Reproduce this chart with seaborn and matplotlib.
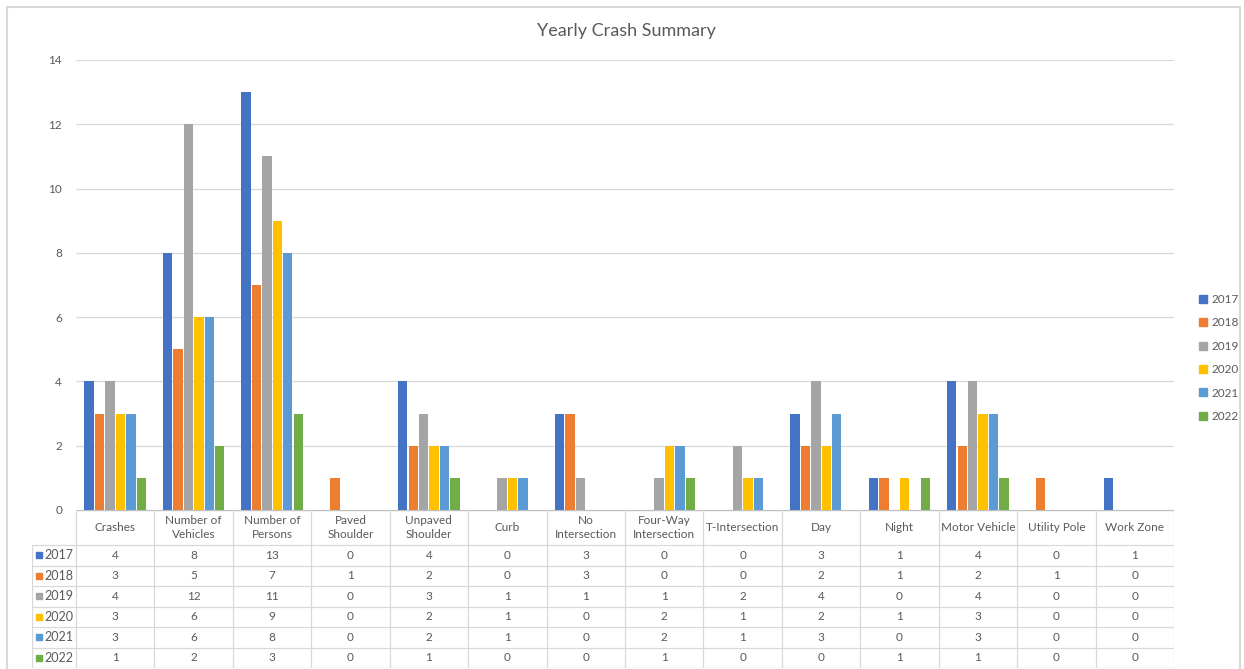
import numpy as np
import pandas as pd
import seaborn as sns
from matplotlib import pyplot as plt
from matplotlib.patches import Rectangle
from matplotlib.lines import Line2D

# chart data
categories = ["Crashes", "Number of Vehicles", "Number of Persons", "Paved Shoulder",
              "Unpaved Shoulder", "Curb", "No Intersection", "Four-Way Intersection",
              "T-Intersection", "Day", "Night", "Motor Vehicle", "Utility Pole", "Work Zone"]
header_labels = ["Crashes", "Number of\nVehicles", "Number of\nPersons", "Paved\nShoulder",
                 "Unpaved\nShoulder", "Curb", "No\nIntersection", "Four-Way\nIntersection",
                 "T-Intersection", "Day", "Night", "Motor Vehicle", "Utility Pole", "Work Zone"]
years = ["2017", "2018", "2019", "2020", "2021", "2022"]
y2017 = [4, 8, 13, 0, 4, 0, 3, 0, 0, 3, 1, 4, 0, 1]
y2018 = [3, 5, 7, 1, 2, 0, 3, 0, 0, 2, 1, 2, 1, 0]
y2019 = [4, 12, 11, 0, 3, 1, 1, 1, 2, 4, 0, 4, 0, 0]
y2020 = [3, 6, 9, 0, 2, 1, 0, 2, 1, 2, 1, 3, 0, 0]
y2021 = [3, 6, 8, 0, 2, 1, 0, 2, 1, 3, 0, 3, 0, 0]
y2022 = [1, 2, 3, 0, 1, 0, 0, 1, 0, 0, 1, 1, 0, 0]
colors = ["#4472C4", "#ED7D31", "#A5A5A5", "#FFC000", "#5B9BD5", "#70AD47"]

sns.set_theme(style="white")
plt.rcParams["font.family"] = ["Lato", "DejaVu Sans"]
TXT = "#595959"
GRID = "#D9D9D9"

df = pd.DataFrame({"Category": categories, "2017": y2017, "2018": y2018, "2019": y2019,
                   "2020": y2020, "2021": y2021, "2022": y2022})
long = df.melt(id_vars="Category", var_name="Year", value_name="Count")

W, H = 1244, 669
fig = plt.figure(figsize=(W / 100, H / 100), dpi=100)
ax = fig.add_axes([76 / W, 1 - 510 / H, (1174 - 76) / W, 450 / H])

sns.barplot(data=long, x="Category", y="Count", hue="Year", order=categories,
            hue_order=years, palette=colors, saturation=1, width=0.8, gap=0.1,
            linewidth=0, legend=False, ax=ax)

ax.set_xlim(-0.5, len(categories) - 0.5)
ax.set_ylim(0, 14)
ax.set_yticks(range(0, 15, 2))
ax.set_xticks([])
ax.set_xlabel("")
ax.set_ylabel("")
ax.yaxis.grid(True, color=GRID, lw=0.9)
ax.set_axisbelow(True)
for s in ax.spines.values():
    s.set_visible(False)
ax.tick_params(axis="y", length=0, pad=10, labelsize=8.5, labelcolor=TXT)

handles = [Line2D([], [], marker="s", ls="none", ms=5.5, color=c) for c in colors]
leg = ax.legend(handles, years, loc="center left", bbox_to_anchor=(1188 / W, 1 - 358 / H),
                bbox_transform=fig.transFigure, frameon=False, fontsize=8.5,
                handlelength=0.8, handletextpad=0.3, labelspacing=1.05)
for t in leg.get_texts():
    t.set_color(TXT)

fig.text(626 / W, 1 - 31 / H, "Yearly Crash Summary", ha="center", va="center",
         fontsize=13, color=TXT)

# data table below the plot
tax = fig.add_axes([32 / W, 1 / H, (1174 - 32) / W, 158 / H])
unit = (1174 - 76) / len(categories)
x0 = -0.5 - 44 / unit
tax.set_xlim(x0, len(categories) - 0.5)
tax.set_ylim(158, 0)
tax.axis("off")

head = 35
rowh = 20.5
tax.plot([-0.5, len(categories) - 0.5], [0, 0], color="#BFBFBF", lw=1)
for i in range(len(years) + 1):
    tax.plot([x0, len(categories) - 0.5], [head + i * rowh] * 2, color=GRID, lw=0.9)
for k in range(len(categories) + 1):
    tax.plot([k - 0.5] * 2, [0, head + len(years) * rowh], color=GRID, lw=0.9)
tax.plot([x0, x0], [head, head + len(years) * rowh], color=GRID, lw=0.9)

for i, lab in enumerate(header_labels):
    tax.text(i, head / 2, lab, ha="center", va="center", fontsize=8.5, color=TXT,
             linespacing=1.3)

for r, yr in enumerate(years):
    yc = head + (r + 0.5) * rowh
    tax.plot([x0 + 7 / unit], [yc], marker="s", ms=5, color=colors[r], ls="none")
    tax.text(x0 + 12 / unit, yc, yr, ha="left", va="center", fontsize=9, color=TXT)
    vals = df[yr].tolist()
    for i, v in enumerate(vals):
        tax.text(i, yc, str(v), ha="center", va="center", fontsize=8.5, color=TXT)

fig.patches.append(Rectangle((7 / W, -0.01), (1240 - 7) / W, (H - 7) / H + 0.01,
                             transform=fig.transFigure, fill=False, ec=GRID, lw=1.5))

fig.savefig("out.png", dpi=100)
